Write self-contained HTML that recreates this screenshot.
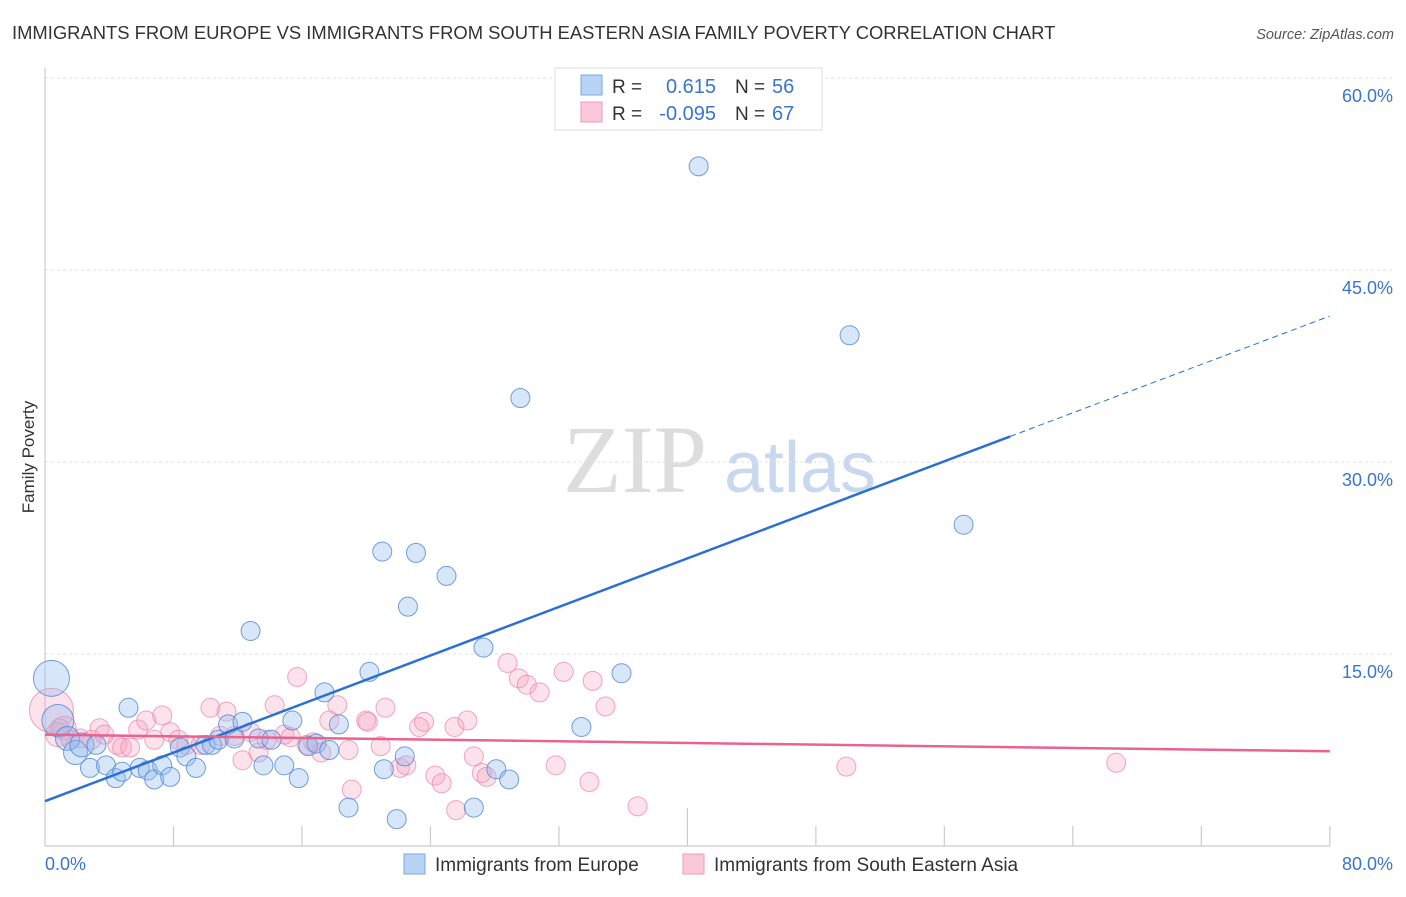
<!DOCTYPE html>
<html><head><meta charset="utf-8"><style>
body{margin:0;background:#fff;font-family:"Liberation Sans",sans-serif}
svg text{font-family:"Liberation Sans",sans-serif}
</style></head><body>
<svg id="chart" width="1406" height="892">
<text x="12" y="39" font-size="18.4" fill="#333">IMMIGRANTS FROM EUROPE VS IMMIGRANTS FROM SOUTH EASTERN ASIA FAMILY POVERTY CORRELATION CHART</text>
<text x="1394" y="39" font-size="14.5" fill="#555" font-style="italic" text-anchor="end">Source: ZipAtlas.com</text>
<text x="34" y="457" font-size="17" fill="#333" text-anchor="middle" transform="rotate(-90 34 457)">Family Poverty</text>
<g><text x="635" y="492" font-size="96" fill="#ddd" text-anchor="middle" style="font-family:'Liberation Serif',serif">ZIP</text><text x="800" y="492" font-size="72" fill="#c8d8ee" text-anchor="middle">atlas</text></g>
<g id="grid"></g><g id="axes"></g><g id="pts"></g><g id="trend"></g>
<g>
<rect x="555" y="68" width="267" height="62" fill="#fff" stroke="#ddd"/>
<rect x="581" y="75" width="21" height="20" fill="#b9d3f5" stroke="#7aa6e6"/>
<rect x="581" y="102" width="21" height="20" fill="#fac8d8" stroke="#f09ab6"/>
<text x="612" y="93" font-size="19" fill="#333">R =</text><text x="716" y="93" font-size="20" fill="#3a74d0" text-anchor="end">0.615</text>
<text x="735" y="93" font-size="19" fill="#333">N =</text><text x="772" y="93" font-size="20" fill="#3a74d0">56</text>
<text x="612" y="120" font-size="19" fill="#333">R =</text><text x="716" y="120" font-size="20" fill="#3a74d0" text-anchor="end">-0.095</text>
<text x="735" y="120" font-size="19" fill="#333">N =</text><text x="772" y="120" font-size="20" fill="#3a74d0">67</text>
</g>
<g>
<rect x="404" y="854" width="21" height="20" fill="#b9d3f5" stroke="#7aa6e6"/>
<text x="435" y="871" font-size="19" fill="#333">Immigrants from Europe</text>
<rect x="683" y="854" width="21" height="20" fill="#fac8d8" stroke="#f09ab6"/>
<text x="714" y="871" font-size="19" fill="#333">Immigrants from South Eastern Asia</text>
</g>
</svg>
<script>
const yTicks=[15,30,45,60];
const yTickLabels=["15.0%","30.0%","45.0%","60.0%"];
const xTickLabels=["0.0%","80.0%"];
const blueX=[0.4,0.8,1.4,1.9,2.3,2.8,3.2,3.8,4.4,4.8,5.2,5.9,6.4,6.8,7.3,7.8,8.4,8.8,9.4,10.0,10.4,10.8,11.4,11.8,12.3,12.8,13.3,13.6,14.1,14.9,15.4,15.8,16.4,16.9,17.4,17.7,18.3,18.9,20.2,21.0,21.1,21.9,22.4,22.6,23.1,25.0,26.7,27.3,28.1,28.9,29.6,33.4,35.9,40.7,50.1,57.2];
const blueY=[13.1,9.8,8.4,7.3,7.9,6.1,7.9,6.3,5.3,5.8,10.8,6.1,5.9,5.2,6.3,5.4,7.7,7.0,6.1,7.9,7.9,8.3,9.5,8.4,9.7,16.8,8.4,6.3,8.3,6.3,9.8,5.3,7.8,8.0,12.0,7.5,9.5,3.0,13.6,23.0,6.0,2.1,7.0,18.7,22.9,21.1,3.0,15.5,6.0,5.2,35.0,9.3,13.5,53.1,39.9,25.1];
const pinkX=[0.4,0.8,1.2,1.6,2.2,2.9,3.4,3.7,4.5,4.8,5.3,5.8,6.3,6.8,7.3,7.8,8.3,8.8,9.7,10.3,10.9,11.3,11.8,12.3,12.8,13.3,13.8,14.3,14.9,15.3,15.7,16.3,16.7,17.2,17.7,18.2,18.9,19.1,20.0,20.1,20.9,21.2,22.1,22.5,23.3,23.6,24.3,24.7,25.5,25.6,26.3,26.7,27.2,27.5,28.8,29.5,30.0,30.8,31.8,32.3,33.9,34.1,34.9,36.9,49.9,66.7,0.9];
const pinkY=[10.6,8.7,9.2,8.3,8.4,8.3,9.2,8.7,7.9,7.7,7.7,9.1,9.8,8.3,10.2,8.9,8.3,7.9,7.9,10.8,8.6,10.5,8.6,6.7,8.9,7.3,8.3,11.0,8.7,8.5,13.2,7.9,8.1,7.3,9.8,11.0,7.5,4.4,9.8,9.7,7.8,10.8,6.1,6.3,9.3,9.7,5.5,4.9,9.3,2.8,9.8,7.0,5.7,5.4,14.3,13.1,12.6,12.0,6.3,13.6,5.0,12.9,10.9,3.1,6.2,6.5,9.2];
const blueTrend=[[0,3.5],[60.1,32.0],[80,41.4]];
const pinkTrend=[[0,8.7],[80,7.4]];
const X=v=>45+v*16.06, Y=v=>846-v*12.8;
const NS="http://www.w3.org/2000/svg";
function mk(tag,attrs,parent){const e=document.createElementNS(NS,tag);for(const k in attrs)e.setAttribute(k,attrs[k]);document.getElementById(parent).appendChild(e);return e;}
yTicks.forEach((t,i)=>{
 const l=mk('line',{x1:45,x2:1394,y1:Y(t),y2:Y(t),stroke:'#e2e2e2','stroke-dasharray':'3 3'},'grid');
 
 
 const tx=mk('text',{x:1393,y:Y(t)+24,'font-size':18,fill:'#3a74d0','text-anchor':'end'},'axes');tx.textContent=yTickLabels[i];
 
 
});
const ya=mk('line',{x1:45,x2:45,y1:68,y2:846,stroke:'#ccc','stroke-width':1.2},'axes');


const xa=mk('line',{x1:45,x2:1330,y1:846,y2:846,stroke:'#ccc','stroke-width':1.2},'axes');


for(let i=1;i<=10;i++){const v=i*8;const tk=mk('line',{x1:X(v),x2:X(v),y1:i==5?808:826,y2:846,stroke:'#ccc','stroke-width':1.2},'axes');
 
 }
[[0,45,'start'],[80,1393,'end']].forEach((d,i)=>{const t=mk('text',{x:d[1],y:870,'font-size':18,fill:'#3a74d0','text-anchor':d[2]},'axes');t.textContent=xTickLabels[i];
 
 });
pinkX.forEach((x,i)=>{const r=i==0?22:(i<3?12:9.5);
 const c=mk('circle',{cx:X(x),cy:Y(pinkY[i]),r:r,fill:'rgba(246,160,190,0.3)',stroke:'rgba(236,130,165,0.7)','stroke-width':1},'pts');
 
 });
blueX.forEach((x,i)=>{const r=i==0?18:(i==1?16:(i<5?12:9.5));
 const c=mk('circle',{cx:X(x),cy:Y(blueY[i]),r:r,fill:'rgba(150,190,240,0.38)',stroke:'rgba(80,135,215,0.8)','stroke-width':1},'pts');
 
 });
const b1=mk('line',{x1:X(blueTrend[0][0]),y1:Y(blueTrend[0][1]),x2:X(blueTrend[1][0]),y2:Y(blueTrend[1][1]),stroke:'#2a6fd6','stroke-width':2.5},'trend');


const b2=mk('line',{x1:X(blueTrend[1][0]),y1:Y(blueTrend[1][1]),x2:X(blueTrend[2][0]),y2:Y(blueTrend[2][1]),stroke:'#2a6fd6','stroke-width':1,'stroke-dasharray':'6 4'},'trend');


const p1=mk('line',{x1:X(pinkTrend[0][0]),y1:Y(pinkTrend[0][1]),x2:X(pinkTrend[1][0]),y2:Y(pinkTrend[1][1]),stroke:'#e8638e','stroke-width':2.5},'trend');


</script>
</body></html>
